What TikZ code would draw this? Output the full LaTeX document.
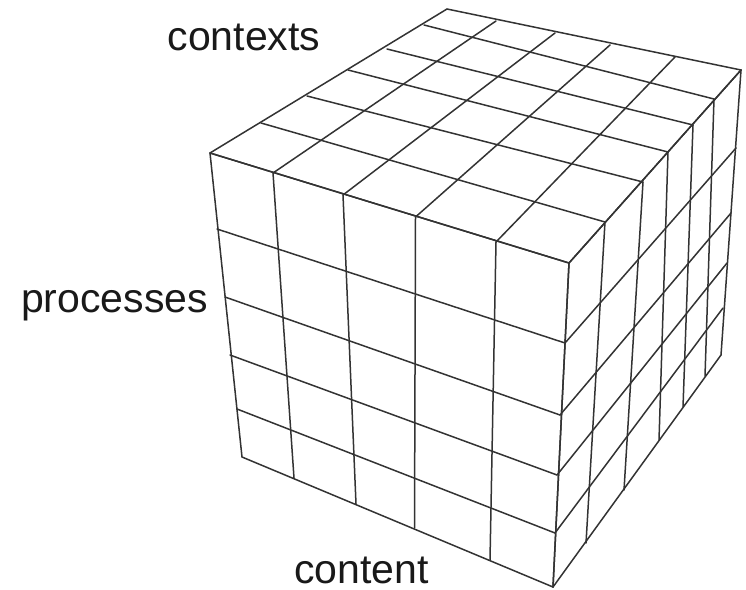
\documentclass[tikz,border=0pt]{standalone}
\usepackage{fontspec}
\setmainfont{Liberation Sans}
\begin{document}
\begin{tikzpicture}[x=1pt,y=-1pt,
  gridline/.style={line width=1.5pt,draw=black!80,line cap=round,line join=round},
  lbl/.style={font=\fontsize{41}{49}\selectfont,text=black!90,inner sep=0pt,anchor=base}]
\useasboundingbox (0,0) rectangle (746,589);
% front face top / bottom / left / near edges
\foreach \n/\p in {0/{210,153},1/{273,173},2/{343,195},3/{415.5,217},4/{496,242},5/{569,263}} \coordinate (ft\n) at (\p);
\foreach \n/\p in {0/{242,457},1/{294,478},2/{356,504},3/{414.5,528},4/{490,560},5/{553,587}} \coordinate (fb\n) at (\p);
\foreach \n/\p in {0/{210,153},1/{217,229},2/{225,297},3/{230,355},4/{237,409},5/{242,457}} \coordinate (fl\n) at (\p);
\foreach \n/\p in {0/{569,263},1/{565,343},2/{560,415},3/{557,475},4/{555,533},5/{553,587}} \coordinate (ne\n) at (\p);
% right face
\foreach \n/\p in {0/{569,263},1/{605,222},2/{643,182},3/{668,152},4/{693,125},5/{714,99},6/{741,70}} \coordinate (rt\n) at (\p);
\foreach \n/\p in {0/{553,587},1/{586,543},2/{624,490},3/{659,440},4/{683,407},5/{705,376},6/{721,355}} \coordinate (rb\n) at (\p);
\foreach \n/\p in {0/{741,70},1/{736,148},2/{731,213},3/{727,263},4/{723,308},5/{721,355}} \coordinate (fe\n) at (\p);
% top face
\foreach \n/\p in {0/{210,153},1/{261,123},2/{307,96},3/{348,70},4/{387,49},5/{424,25},6/{447,9}} \coordinate (tl\n) at (\p);
\foreach \n/\p in {0/{447,9},1/{496,21},2/{555,33},3/{610,45},4/{675,57},5/{741,70}} \coordinate (tb\n) at (\p);

\foreach \i in {0,...,5} {
  \draw[gridline] (ft\i) -- (fb\i);
  \draw[gridline] (fl\i) -- (ne\i);
  \draw[gridline] (ne\i) -- (fe\i);
  \draw[gridline] (ft\i) -- (tb\i);
}
\foreach \i in {0,...,6} {
  \draw[gridline] (rt\i) -- (rb\i);
  \draw[gridline] (tl\i) -- (rt\i);
}

\node[lbl] (contexts) at (244,50) {contexts};
\node[lbl] (processes) at (114.5,312) {processes};
\node[lbl] (content) at (361.5,583) {content};
\end{tikzpicture}
\end{document}
